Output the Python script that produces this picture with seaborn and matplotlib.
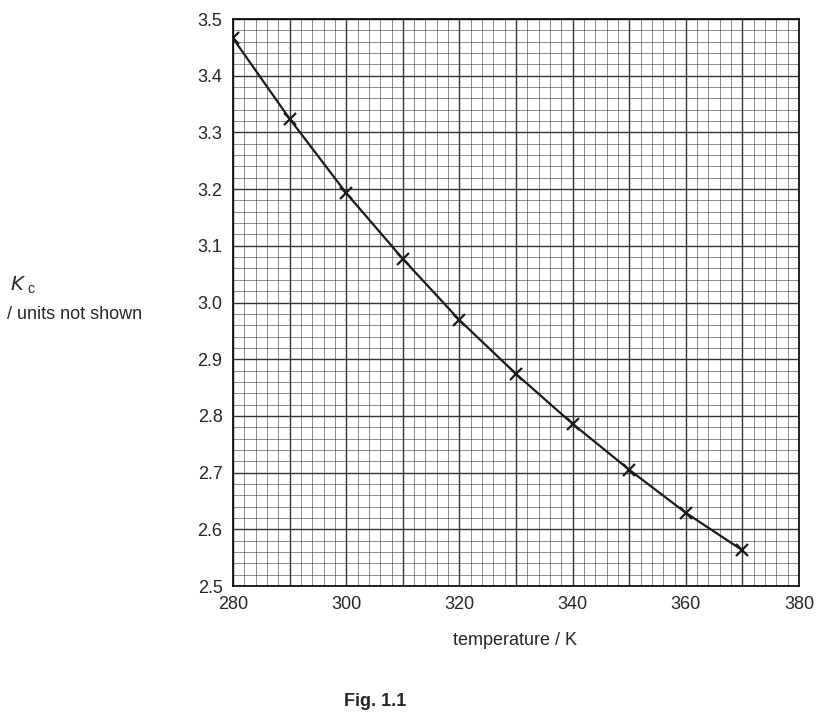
import matplotlib
matplotlib.use("Agg")
import matplotlib.pyplot as plt
import seaborn as sns
import pandas as pd
from matplotlib.ticker import MultipleLocator

temperature = [280, 290, 300, 310, 320, 330, 340, 350, 360, 370]
kc = [3.466, 3.324, 3.193, 3.077, 2.969, 2.874, 2.786, 2.705, 2.629, 2.563]
df = pd.DataFrame({"T": temperature, "Kc": kc})

sns.set_style("white")
plt.rcParams['font.family'] = ['Liberation Sans', 'DejaVu Sans']
fig = plt.figure(figsize=(8.34, 7.17), dpi=100)
ax = fig.add_axes([0.2794, 0.1827, 0.6787, 0.7908])

ax.xaxis.set_major_locator(MultipleLocator(20))
ax.xaxis.set_minor_locator(MultipleLocator(2))
ax.yaxis.set_major_locator(MultipleLocator(0.1))
ax.yaxis.set_minor_locator(MultipleLocator(0.02))
for v in range(280, 381, 2):
    lw = 1.0 if v % 10 == 0 else 0.4
    ax.axvline(v, color="#333333", lw=lw, zorder=0)
for i in range(0, 51):
    lw = 1.0 if i % 5 == 0 else 0.4
    ax.axhline(2.5 + i * 0.02, color="#333333", lw=lw, zorder=0)

sns.lineplot(data=df, x="T", y="Kc", ax=ax, color="#1a1a1a", lw=1.6,
             marker="x", markersize=8, markeredgewidth=1.6, markeredgecolor="#1a1a1a")
ax.set_xlim(280, 380)
ax.set_ylim(2.5, 3.5)
ax.set_xlabel("")
ax.set_ylabel("")
ax.tick_params(axis="both", labelsize=13, length=4, direction="out", color="black")
ax.tick_params(which="minor", length=0)
for s in ax.spines.values():
    s.set_color("black"); s.set_linewidth(1.2)

fig.text(0.012, 0.595, "$K$", fontsize=14)
fig.text(0.033, 0.591, "c", fontsize=10)
fig.text(0.008, 0.555, "/ units not shown", fontsize=13)
fig.text(0.618, 0.10, "temperature / K", fontsize=13, ha="center")
fig.text(0.45, 0.015, "Fig. 1.1", fontsize=13, ha="center", fontweight="bold")
fig.savefig("out.png", dpi=100)
